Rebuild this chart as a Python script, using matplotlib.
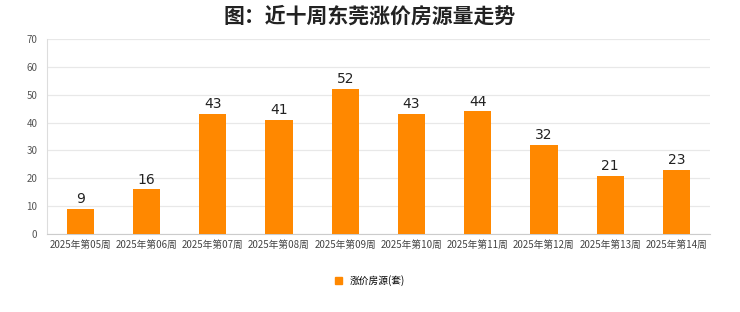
import matplotlib
matplotlib.use("Agg")
import matplotlib.pyplot as plt
from matplotlib.patches import Patch

plt.rcParams['font.family'] = ['Noto Sans CJK SC', 'DejaVu Sans']

weeks = ["2025年第05周", "2025年第06周", "2025年第07周", "2025年第08周", "2025年第09周",
         "2025年第10周", "2025年第11周", "2025年第12周", "2025年第13周", "2025年第14周"]
rising = [9, 16, 43, 41, 52, 43, 44, 32, 21, 23]
yticks = [0, 10, 20, 30, 40, 50, 60, 70]

bar_color = "#ff8800"

fig = plt.figure(figsize=(7.4, 3.12), dpi=100)
ax = fig.add_axes([0.0635, 0.25, 0.8955, 0.625])

x = range(len(weeks))
ax.bar(x, rising, width=0.41, color=bar_color, zorder=3)
for xi, v in zip(x, rising):
    ax.text(xi, v + 1.0, str(v), ha='center', va='bottom', fontsize=10,
            color="#222222", family=['DejaVu Sans'])

ax.set_xlim(-0.5, len(weeks) - 0.5)
ax.set_ylim(0, 70)
ax.set_yticks(yticks)
ax.set_xticks(list(x))
ax.set_xticklabels(weeks, fontsize=7, color="#444444")
ax.tick_params(axis='y', labelsize=7, colors="#555555", length=0, pad=7)
ax.tick_params(axis='x', length=0, pad=4)
ax.grid(axis='y', color="#e8e8e8", linewidth=0.9, zorder=0)
for s in ['top', 'right']:
    ax.spines[s].set_visible(False)
ax.spines['left'].set_color("#dddddd")
ax.spines['bottom'].set_color("#cccccc")

fig.text(0.5, 0.949, "图：近十周东莞涨价房源量走势", ha='center', va='center',
         fontsize=15, fontweight='bold', color="#222222")

fig.legend(handles=[Patch(color=bar_color)], labels=["涨价房源(套)"],
           loc='center', bbox_to_anchor=(0.5, 0.1), frameon=False,
           fontsize=7, handlelength=0.7, handleheight=0.7, handletextpad=0.8)

fig.savefig("out.png", dpi=100, facecolor="white")
